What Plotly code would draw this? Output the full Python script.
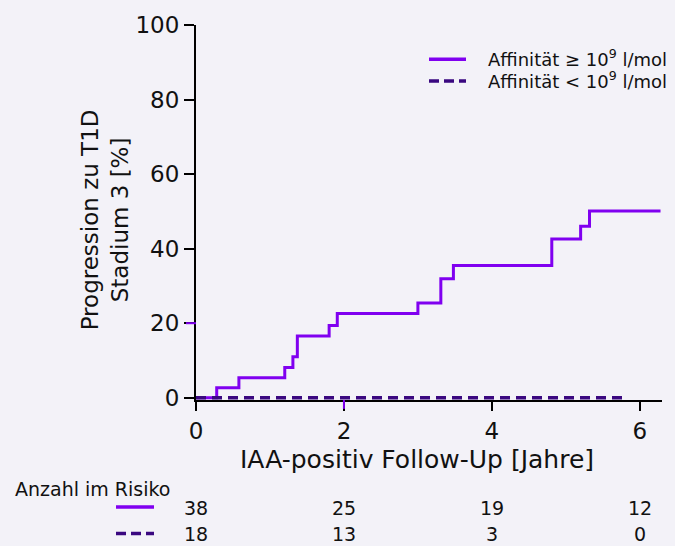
import plotly.graph_objects as go

# ---- data ----
series_names = ["Affinität ≥ 10<sup>9</sup> l/mol", "Affinität < 10<sup>9</sup> l/mol"]
high_t = [0, 0.28, 0.58, 1.20, 1.31, 1.37, 1.80, 1.91, 3.00, 3.31, 3.48, 4.81, 5.20, 5.32, 6.28]
high_y = [0, 2.7, 5.4, 8.1, 11.0, 16.6, 19.4, 22.6, 25.4, 31.9, 35.5, 42.6, 46.0, 50.1, 50.1]
low_t = [0, 5.78]
low_y = [0, 0]
risk_times = [0, 2, 4, 6]
risk_high = [38, 25, 19, 12]
risk_low = [18, 13, 3, 0]
x_ticks = [0, 2, 4, 6]
y_ticks = [0, 20, 40, 60, 80, 100]

COL_HIGH = "#8000f0"
COL_LOW = "#3a0880"
BG = "#f3f2f8"
FONT = "DejaVu Sans"
TXT = "#111111"

W, H = 675, 546
L, R, T, B = 196, 13, 18, 146
PW, PH = W - L - R, H - T - B


def px(x):
    return (x - L) / PW


def py(y):
    return (H - B - y) / PH


fig = go.Figure()
fig.add_trace(go.Scatter(x=high_t, y=high_y, mode="lines", line=dict(color=COL_HIGH, width=3, shape="hv"),
                         name=series_names[0], showlegend=False))
fig.add_trace(go.Scatter(x=low_t, y=low_y, mode="lines", line=dict(color=COL_LOW, width=3.5, shape="hv", dash="10px,6px"),
                         name=series_names[1], showlegend=False))

shapes = []
annotations = []

# manual legend
leg_rows = [52, 74]
for name, col, dash, yy in zip(series_names, [COL_HIGH, COL_LOW], ["solid", "10px,5px"], leg_rows):
    shapes.append(dict(type="line", xref="paper", yref="paper", x0=px(429), x1=px(466), y0=py(yy + 1), y1=py(yy + 1),
                       line=dict(color=col, width=3.5, dash=dash)))
    annotations.append(dict(xref="paper", yref="paper", x=px(486), y=py(yy), text=name, showarrow=False,
                            xanchor="left", yanchor="middle", font=dict(family=FONT, size=18, color=TXT)))

# axis titles
annotations.append(dict(xref="paper", yref="paper", x=px(417), y=py(461), text="IAA-positiv Follow-Up [Jahre]",
                        showarrow=False, xanchor="center", yanchor="middle", font=dict(family=FONT, size=25, color=TXT)))
annotations.append(dict(xref="paper", yref="paper", x=px(105), y=py(217), text="Progression zu T1D<br>Stadium 3 [%]",
                        showarrow=False, textangle=-90, xanchor="center", yanchor="middle",
                        font=dict(family=FONT, size=23, color=TXT)))

# risk table
annotations.append(dict(xref="paper", yref="paper", x=px(13), y=py(491), text="Anzahl im Risiko", showarrow=False,
                        xanchor="left", yanchor="middle", font=dict(family=FONT, size=19, color=TXT)))
for vals, col, dash, yy in zip([risk_high, risk_low], [COL_HIGH, COL_LOW], ["solid", "10px,5px"], [510, 537]):
    shapes.append(dict(type="line", xref="paper", yref="paper", x0=px(116), x1=px(154), y0=py(yy - 1), y1=py(yy - 1),
                       line=dict(color=col, width=3.5, dash=dash)))
    for t, v in zip(risk_times, vals):
        annotations.append(dict(xref="x", yref="paper", x=t, y=py(yy), text=str(v), showarrow=False,
                                xanchor="center", yanchor="middle", font=dict(family=FONT, size=19, color=TXT)))

# coloured tick artefacts as in the original
shapes.append(dict(type="line", xref="x", yref="paper", x0=2, x1=2, y0=0, y1=-9 / PH,
                   line=dict(color=COL_HIGH, width=2)))
shapes.append(dict(type="line", xref="paper", yref="y", x0=0, x1=-10 / PW, y0=20, y1=20,
                   line=dict(color=COL_HIGH, width=2)))

fig.update_layout(
    width=W, height=H,
    margin=dict(l=L, r=R, t=T, b=B),
    paper_bgcolor=BG, plot_bgcolor=BG,
    font=dict(family=FONT, color=TXT),
    shapes=shapes, annotations=annotations,
    showlegend=False,
    xaxis=dict(range=[0, 6.3], tickvals=x_ticks, ticktext=[str(v) for v in x_ticks], showgrid=False, zeroline=False,
               showline=True, linecolor="black", linewidth=2, ticks="outside", ticklen=9, tickwidth=2,
               tickcolor="black", tickfont=dict(family=FONT, size=23, color=TXT)),
    yaxis=dict(range=[-0.6, 100], tickvals=y_ticks, ticktext=[str(v) for v in y_ticks], showgrid=False, zeroline=False,
               showline=True, linecolor="black", linewidth=2, ticks="outside", ticklen=10, tickwidth=2,
               tickcolor="black", tickfont=dict(family=FONT, size=23, color=TXT)),
)

fig.write_html("out.html")
